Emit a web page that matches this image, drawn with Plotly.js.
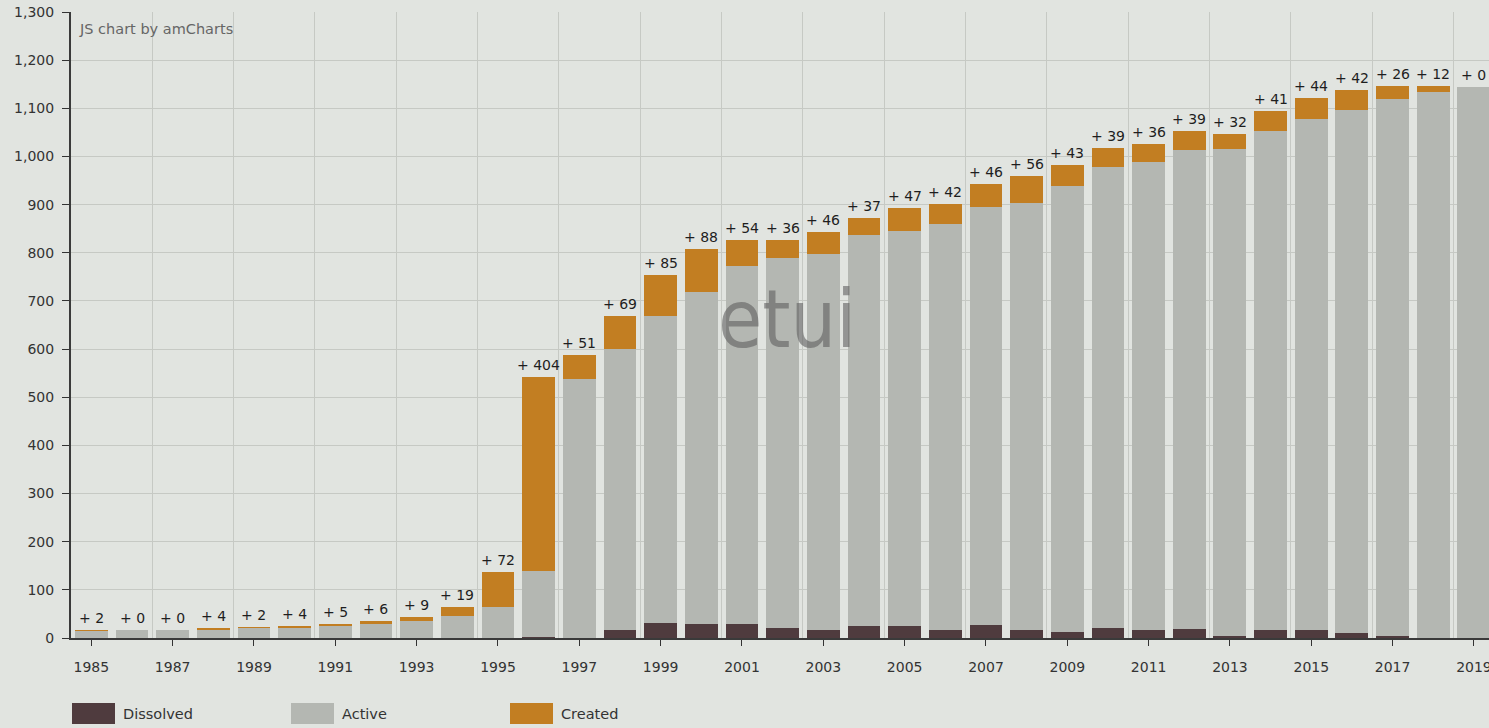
<!DOCTYPE html>
<html>
<head>
<meta charset="utf-8">
<script src="https://cdn.plot.ly/plotly-3.0.1.min.js"></script>
<style>
  html, body { margin: 0; padding: 0; background: #e1e4e0; }
  #chart { width: 1489px; height: 728px; }
</style>
</head>
<body>
<div id="chart"></div>
<script>
const years = [1985,1986,1987,1988,1989,1990,1991,1992,1993,1994,1995,1996,1997,1998,1999,2000,2001,2002,2003,2004,2005,2006,2007,2008,2009,2010,2011,2012,2013,2014,2015,2016,2017,2018,2019];
const dissolved = [0,0,0,0,0,0,0,0,0,0,0,2,0,16,32,30,30,21,16,24,24,16,26,16,12,21,16,19,4,16,16,10,4,0,0];
const active = [14,16,16,16,20,21,25,30,35,45,65,137,537,584,637,689,742,769,781,812,821,844,870,887,927,958,973,994,1011,1037,1061,1087,1116,1134,1144];
const created = [2,0,0,4,2,4,5,6,9,19,72,404,51,69,85,88,54,36,46,37,47,42,46,56,43,39,36,39,32,41,44,42,26,12,0];
const seriesNames = ["Dissolved", "Active", "Created"];
const seriesColors = ["#4f3b3e", "#b4b7b2", "#c27e22"];
const xTickLabels = ["1985","1987","1989","1991","1993","1995","1997","1999","2001","2003","2005","2007","2009","2011","2013","2015","2017","2019"];
const xTickVals = xTickLabels.map(Number);

const totals = years.map((y, i) => dissolved[i] + active[i] + created[i]);
const labels = created.map(c => "+ " + c);

const W = 1489, H = 728;
const M = {l: 71, r: 0, t: 12, b: 90};
const pw = W - M.l - M.r, ph = H - M.t - M.b;
const px = x => (x - M.l) / pw;
const py = y => (H - M.b - y) / ph;

const FONT = "DejaVu Sans, Verdana, sans-serif";

const traces = [
  {type: "bar", x: years, y: dissolved, name: seriesNames[0], marker: {color: seriesColors[0]}, hoverinfo: "skip"},
  {type: "bar", x: years, y: active, name: seriesNames[1], marker: {color: seriesColors[1]}, hoverinfo: "skip"},
  {type: "bar", x: years, y: created, name: seriesNames[2], marker: {color: seriesColors[2]}, hoverinfo: "skip"}
];

const shapes = [];
const annotations = [];
years.forEach((yr, i) => {
  annotations.push({x: yr, y: totals[i], xref: "x", yref: "y", text: labels[i], showarrow: false,
                    xanchor: "center", yanchor: "bottom", yshift: 2,
                    font: {family: FONT, size: 14, color: "#1e1e1e"}});
});
const legendX = [72, 291, 510];
seriesNames.forEach((n, i) => {
  shapes.push({type: "rect", xref: "paper", yref: "paper", x0: px(legendX[i]), x1: px(legendX[i] + 43), y0: py(724), y1: py(703),
               fillcolor: seriesColors[i], line: {width: 0}});
  annotations.push({xref: "paper", yref: "paper", x: px(legendX[i] + 49), y: py(714), xanchor: "left", yanchor: "middle",
                    text: n, showarrow: false, font: {family: FONT, size: 14.5, color: "#333"}});
});
annotations.push({xref: "paper", yref: "paper", x: px(77), y: py(29), xanchor: "left", yanchor: "middle",
                  text: "JS chart by amCharts", showarrow: false, font: {family: FONT, size: 14.5, color: "#666"}});
annotations.push({xref: "paper", yref: "paper", x: px(787), y: py(320), xanchor: "center", yanchor: "middle",
                  text: "etui", showarrow: false, font: {family: "Liberation Sans Narrow, DejaVu Sans Condensed, sans-serif", size: 80, color: "rgba(95,95,95,0.6)"}});

const layout = {
  width: W, height: H,
  margin: M,
  paper_bgcolor: "#e1e4e0",
  plot_bgcolor: "#e1e4e0",
  barmode: "stack",
  bargap: 0.19,
  showlegend: false,
  xaxis: {
    range: [1984.5, 2019.37],
    tickvals: xTickVals, ticktext: xTickLabels,
    ticks: "outside", ticklen: 6, tickcolor: "#333", tickwidth: 1,
    ticklabelstandoff: 9,
    ticklabeloverflow: "allow",
    showgrid: false,
    minor: {tick0: 1986.5, dtick: 2, showgrid: true, gridcolor: "#c6c9c4", gridwidth: 1, ticks: ""},
    showline: true, linecolor: "#3a3a3a", linewidth: 2,
    tickfont: {family: FONT, size: 14, color: "#333"},
    zeroline: false, fixedrange: true
  },
  yaxis: {
    range: [0, 1300],
    tickvals: [0,100,200,300,400,500,600,700,800,900,1000,1100,1200,1300],
    tickformat: ",d",
    ticks: "outside", ticklen: 7, tickcolor: "#333", tickwidth: 1,
    ticklabelstandoff: 5,
    showgrid: true, gridcolor: "#c6c9c4", gridwidth: 1,
    showline: true, linecolor: "#3a3a3a", linewidth: 2,
    tickfont: {family: FONT, size: 14, color: "#333"},
    zeroline: false, fixedrange: true
  },
  shapes: shapes,
  annotations: annotations
};

Plotly.newPlot("chart", traces, layout, {displayModeBar: false, staticPlot: true});
</script>
</body>
</html>
